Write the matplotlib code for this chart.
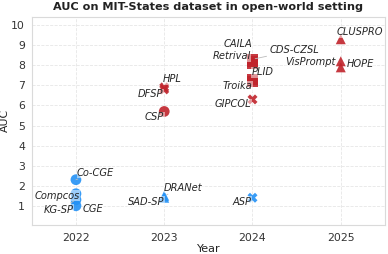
import matplotlib
matplotlib.use("Agg")
import matplotlib.pyplot as plt
import seaborn as sns

sns.set_style("whitegrid")
plt.rcParams['font.family'] = ['DejaVu Sans']

# method data
methods = ["CGE", "Compcos", "KG-SP", "Co-CGE", "CSP", "DFSP", "HPL", "DRANet", "SAD-SP",
           "CAILA", "Retrival", "CDS-CZSL", "PLID", "Troika", "GIPCOL", "ASP",
           "CLUSPRO", "VisPrompt", "HOPE"]
years = [2022, 2022, 2022, 2022, 2023, 2023, 2023, 2023, 2023,
         2024, 2024, 2024, 2024, 2024, 2024, 2024,
         2025, 2025, 2025]
auc = [1.0, 1.6, 1.3, 2.3, 5.7, 6.8, 6.9, 1.5, 1.4,
       8.2, 8.1, 8.3, 7.3, 7.2, 6.3, 1.4,
       9.3, 8.2, 7.9]
groups = ["blue", "blue", "blue", "blue", "red", "red", "red", "blue", "blue",
          "red", "red", "red", "red", "red", "red", "blue",
          "red", "red", "red"]
markers = ["o", "o", "o", "o", "o", "X", "X", "^", "^",
           "s", "s", "s", "s", "s", "X", "X",
           "^", "^", "^"]

colors = {"blue": "#2391f5", "red": "#c0232b"}

# label placement (offset pixels, alignment, connector line)
label_pos = {
    "CGE": (7, -3, "left", False),
    "Compcos": (4, -2, "right", False),
    "KG-SP": (-2, -10, "right", True),
    "Co-CGE": (1, 7, "left", True),
    "CSP": (0, -6, "right", False),
    "DFSP": (-1, -5, "right", False),
    "HPL": (-1, 8, "left", False),
    "DRANet": (0, 8, "left", True),
    "SAD-SP": (0, -4, "right", False),
    "CAILA": (0, 17, "right", False),
    "Retrival": (-2, 7, "right", False),
    "CDS-CZSL": (17, 9, "left", True),
    "PLID": (-1, 7, "left", False),
    "Troika": (0, -5, "right", False),
    "GIPCOL": (-1, -5, "right", False),
    "ASP": (-1, -4, "right", False),
    "CLUSPRO": (-4, 7, "left", False),
    "VisPrompt": (-5, -1, "right", False),
    "HOPE": (6, 3, "left", False),
}

fig = plt.figure(figsize=(3.88, 2.54), dpi=100)
ax = fig.add_axes([0.082, 0.114, 0.910, 0.820])

for m, yr, v, g, mk in zip(methods, years, auc, groups, markers):
    size = 60 if mk in ("o", "s") else 52
    ax.scatter(yr, v, marker=mk, s=size, color=colors[g], alpha=0.9,
               edgecolors="none", zorder=3)

for m, yr, v in zip(methods, years, auc):
    dx, dy, ha, line = label_pos[m]
    arrow = dict(arrowstyle="-", color="#bbbbbb", lw=0.6) if line else None
    ax.annotate(m, (yr, v), xytext=(dx, dy), textcoords="offset pixels",
                ha=ha, va="center", fontsize=7.1, style="italic",
                bbox=dict(facecolor="white", alpha=0.5, edgecolor="none", pad=0.3),
                arrowprops=arrow, zorder=4)

ax.set_xlim(2021.5, 2025.5)
ax.set_ylim(0.04, 10.42)
ax.set_xticks([2022, 2023, 2024, 2025])
ax.set_yticks(range(1, 11))
ax.tick_params(labelsize=7.8, pad=2, colors="#333333")
ax.tick_params(axis="y", pad=1.5)
ax.grid(True, linestyle="--", color="#e6e6e6", linewidth=0.6)
for sp in ax.spines.values():
    sp.set_color("#dadada")
    sp.set_linewidth(0.8)

ax.set_xlabel("Year", fontsize=8, labelpad=1, color="#222222")
ax.set_ylabel("AUC", fontsize=7.8, labelpad=0.5, color="#222222")
ax.set_title("AUC on MIT-States dataset in open-world setting", fontsize=8.1,
             fontweight="bold", pad=5, color="#222222")

fig.savefig("out.png", dpi=100)
